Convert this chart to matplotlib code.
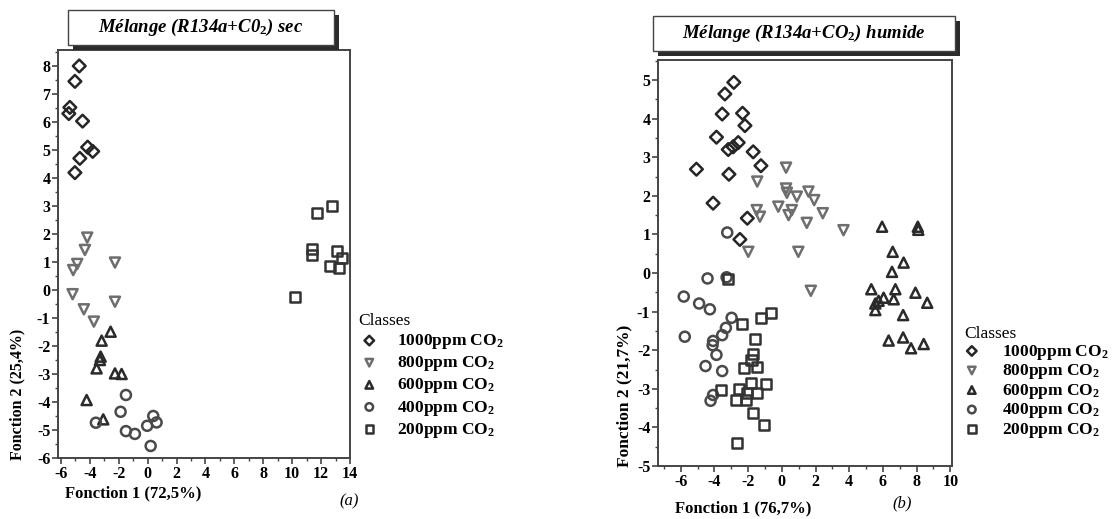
import numpy as np
import matplotlib.pyplot as plt
from matplotlib.patches import Rectangle
from matplotlib.ticker import MultipleLocator

plt.rcParams['font.family'] = ['Liberation Serif', 'DejaVu Serif']
plt.rcParams['mathtext.fontset'] = 'custom'
plt.rcParams['mathtext.rm'] = 'Liberation Serif:bold'
plt.rcParams['mathtext.it'] = 'Liberation Serif:bold:italic'
plt.rcParams['mathtext.bf'] = 'Liberation Serif:bold'
plt.rcParams['axes.unicode_minus'] = False

classes = ['1000ppm CO$_2$', '800ppm CO$_2$', '600ppm CO$_2$', '400ppm CO$_2$', '200ppm CO$_2$']
markers = ['D', 'v', '^', 'o', 's']
colors = ['#262626', '#6e6e6e', '#2a2a2a', '#4a4a4a', '#333333']

# (a) dry mixture
a_1000_x = [-4.73, -5.03, -5.38, -5.45, -4.50, -4.15, -3.80, -4.69, -5.03]
a_1000_y = [8.00, 7.45, 6.52, 6.30, 6.03, 5.10, 4.95, 4.70, 4.19]
a_800_x = [-4.18, -4.34, -4.87, -5.15, -2.26, -5.19, -2.26, -4.41, -3.72]
a_800_y = [1.87, 1.43, 0.93, 0.71, 0.98, -0.15, -0.42, -0.69, -1.13]
a_600_x = [-2.56, -3.18, -3.25, -3.30, -3.53, -2.26, -1.80, -4.22, -3.07]
a_600_y = [-1.49, -1.81, -2.38, -2.50, -2.80, -2.98, -3.00, -3.93, -4.62]
a_400_x = [-1.50, -1.87, -3.58, -1.50, -0.88, -0.03, 0.39, 0.62, 0.21]
a_400_y = [-3.75, -4.35, -4.74, -5.04, -5.14, -4.85, -4.50, -4.73, -5.57]
a_200_x = [12.78, 11.70, 11.39, 11.39, 13.08, 13.42, 12.60, 13.24, 10.19]
a_200_y = [3.01, 2.74, 1.45, 1.25, 1.40, 1.13, 0.87, 0.80, -0.24]

# (b) humid mixture
b_1000_x = [-2.85, -3.38, -3.54, -2.33, -2.19, -3.88, -2.59, -2.89, -3.18, -1.70,
            -1.24, -5.07, -3.14, -4.08, -2.05, -2.49]
b_1000_y = [4.94, 4.64, 4.12, 4.14, 3.82, 3.52, 3.38, 3.27, 3.20, 3.14,
            2.78, 2.69, 2.56, 1.81, 1.42, 0.87]
b_800_x = [0.25, -1.46, 0.25, 0.30, 0.89, 1.58, 1.92, -0.21, 0.59, -1.49,
           -1.30, 0.40, 2.43, 1.48, 3.66, -1.99, 0.98, 1.72]
b_800_y = [2.73, 2.37, 2.19, 2.08, 1.98, 2.11, 1.89, 1.72, 1.63, 1.63,
           1.46, 1.50, 1.55, 1.30, 1.11, 0.55, 0.55, -0.46]
b_600_x = [5.95, 8.07, 8.10, 6.58, 7.23, 6.54, 5.31, 6.74, 7.93, 6.04,
           6.64, 5.74, 5.55, 8.63, 5.55, 7.20, 6.34, 7.20, 7.67, 8.42]
b_600_y = [1.20, 1.20, 1.12, 0.55, 0.27, 0.03, -0.42, -0.42, -0.51, -0.64,
           -0.68, -0.72, -0.79, -0.77, -0.96, -1.09, -1.75, -1.67, -1.95, -1.84]
b_400_x = [-3.24, -4.41, -3.28, -5.82, -4.91, -4.27, -2.98, -3.32, -3.54, -4.08,
           -5.76, -4.11, -3.88, -4.53, -3.54, -4.08, -4.23]
b_400_y = [1.05, -0.14, -0.11, -0.61, -0.79, -0.94, -1.16, -1.42, -1.61, -1.76,
           -1.65, -1.87, -2.12, -2.41, -2.54, -3.16, -3.31]
b_200_x = [-3.22, -0.66, -1.26, -2.35, -1.60, -1.70, -1.80, -2.25, -1.49, -1.85,
           -0.96, -2.55, -3.62, -2.09, -1.49, -2.73, -2.15, -1.70, -1.06, -2.68]
b_200_y = [-0.16, -1.04, -1.16, -1.32, -1.72, -2.10, -2.25, -2.47, -2.44, -2.84,
           -2.88, -3.00, -3.03, -3.10, -3.12, -3.29, -3.29, -3.62, -3.94, -4.41]

fig = plt.figure(figsize=(11.13, 5.19), dpi=100)
W, H = 1113.0, 519.0


def px_axes(x0, y0, x1, y1):
    return fig.add_axes([x0 / W, 1 - y1 / H, (x1 - x0) / W, (y1 - y0) / H])


def title_box(x0, y0, x1, y1, text):
    # shadow then white box, figure pixel coords (top-left origin)
    fig.patches.append(Rectangle(((x0 + 5) / W, 1 - (y1 + 5) / H), (x1 - x0) / W, (y1 - y0) / H,
                                 transform=fig.transFigure, facecolor='#2b2b2b', edgecolor='none', zorder=1))
    fig.patches.append(Rectangle((x0 / W, 1 - y1 / H), (x1 - x0) / W, (y1 - y0) / H,
                                 transform=fig.transFigure, facecolor='white', edgecolor='#444444',
                                 linewidth=1.0, zorder=2))
    fig.text((x0 + x1) / 2 / W, 1 - (y0 + y1) / 2 / H, text, ha='center', va='center',
             fontsize=13.5, fontweight='bold', fontstyle='italic', zorder=3)


def style_axes(ax, xmin, xmax, ymin, ymax):
    ax.set_xlim(xmin, xmax)
    ax.set_ylim(ymin, ymax)
    ax.xaxis.set_major_locator(MultipleLocator(2))
    ax.xaxis.set_minor_locator(MultipleLocator(1))
    ax.yaxis.set_major_locator(MultipleLocator(1))
    ax.yaxis.set_minor_locator(MultipleLocator(0.5))
    ax.tick_params(which='major', length=4, width=1.2, color='#444444', pad=1.5,
                   labelsize=11.5, direction='out')
    ax.tick_params(which='minor', length=2.5, width=1.0, color='#444444', direction='out')
    for lab in ax.get_xticklabels() + ax.get_yticklabels():
        lab.set_fontweight('bold')
    for s in ax.spines.values():
        s.set_color('#444444')
        s.set_linewidth(1.4)


def draw(ax, series):
    for (xs, ys), lab, m, c in zip(series, classes, markers, colors):
        ms = 42 if m == 'D' else 52
        ax.scatter(xs, ys, marker=m, s=ms, facecolors='none', edgecolors=c,
                   linewidths=1.8, label=lab, zorder=3)


def legend(ax, x, y, hl, hp, ls):
    leg = ax.legend(loc='upper left', bbox_to_anchor=(x / W, 1 - y / H), bbox_transform=fig.transFigure,
                    frameon=False, title='Classes', alignment='left', fontsize=12.5, title_fontsize=12.5,
                    handlelength=hl, handletextpad=hp, labelspacing=ls, borderpad=0, borderaxespad=0,
                    markerscale=0.75)
    for t in leg.get_texts():
        t.set_fontweight('bold')
    return leg


# ---- (a)
ax1 = px_axes(58, 50, 350, 458)
draw(ax1, [(a_1000_x, a_1000_y), (a_800_x, a_800_y), (a_600_x, a_600_y),
           (a_400_x, a_400_y), (a_200_x, a_200_y)])
style_axes(ax1, -6.2, 14.0, -6.0, 8.57)
ax1.set_xlabel('Fonction 1 (72,5%)', fontsize=12, fontweight='bold', ha='center')
ax1.xaxis.set_label_coords(0.259, -0.066)
ax1.set_ylabel('Fonction 2 (25,4%)', fontsize=11.5, fontweight='bold')
ax1.yaxis.set_label_coords(-0.113, 0.155)
legend(ax1, 358, 313, 1.3, 0.95, 0.18)
title_box(68, 10, 334, 45, 'Mélange (R134a+C0$_2$) sec')
fig.text(349 / W, 1 - 501 / H, '(a)', ha='center', va='center', fontsize=12, fontstyle='italic')

# ---- (b)
ax2 = px_axes(658, 60, 952, 466)
draw(ax2, [(b_1000_x, b_1000_y), (b_800_x, b_800_y), (b_600_x, b_600_y),
           (b_400_x, b_400_y), (b_200_x, b_200_y)])
style_axes(ax2, -7.35, 10.1, -5.0, 5.52)
ax2.set_xlabel('Fonction 1 (76,7%)', fontsize=12, fontweight='bold', ha='center')
ax2.xaxis.set_label_coords(0.291, -0.084)
ax2.set_ylabel('Fonction 2 (21,7%)', fontsize=12.5, fontweight='bold')
ax2.yaxis.set_label_coords(-0.088, 0.172)
legend(ax2, 964, 326, 0.9, 1.3, 0.03)
title_box(653, 16, 955, 51, 'Mélange (R134a+CO$_2$) humide')
fig.text(902 / W, 1 - 503 / H, '(b)', ha='center', va='center', fontsize=12, fontstyle='italic')

plt.savefig('out.png', dpi=100)
